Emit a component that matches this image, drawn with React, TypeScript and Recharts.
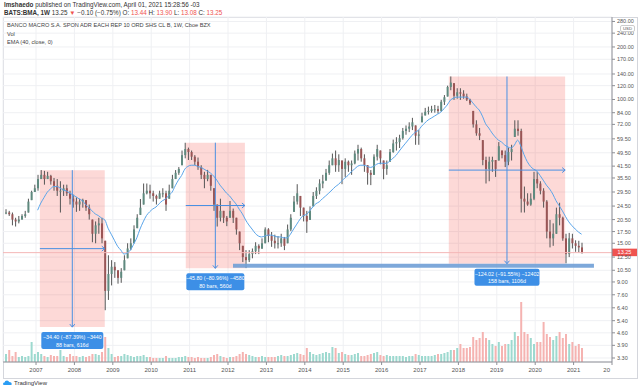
import React from 'react';
import {
  ComposedChart, Bar, Line, XAxis, YAxis, CartesianGrid, Cell,
  ReferenceArea, ReferenceLine, ReferenceDot
} from 'recharts';

// monthly bars, first one is March 2006
const START_YEAR = 2006;
const START_MONTH = 3;

const highs = [
  23.5, 23, 22.5, 21, 21.5, 22, 23, 27, 30, 32.5,
  37, 39.4, 39, 38.5, 37, 35.5, 35, 34, 32.5, 32.5, 30, 28.5,
  27.5, 27, 27, 26.5, 25, 20.5, 20, 21, 21, 15.5, 12.8, 12,
  11.7, 10.5, 10.8, 12.8, 15, 16, 19, 22, 26.9, 33, 33, 32.5,
  30, 28.5, 30, 31, 30, 32.5, 37, 39.4, 41, 51, 56.5, 53,
  51, 48, 46.5, 42, 38.5, 39.5, 37, 31, 25, 27, 23, 21.5,
  26.2, 23.7, 21, 17.5, 14.5, 13.7, 13.7, 14, 15.2, 14.8, 16, 18.5,
  18.3, 17.4, 16.8, 16.5, 17, 16.3, 19.2, 22, 28, 32.7, 28, 24,
  23, 24.4, 29.5, 31.4, 34.9, 37, 40, 44.7, 49, 51, 48.5, 44.7,
  46, 44.7, 44.7, 51, 55, 53, 48.5, 42, 39.4, 48.5, 55, 51,
  44.7, 44.7, 52, 58.9, 60.8, 62.8, 68.7, 71, 74, 78.5, 71, 66.8,
  84, 89.5, 91, 92, 93, 92, 99.5, 106, 120, 135.5, 124, 116,
  116, 113, 108, 101, 86, 76, 68.7, 58.5, 47, 47, 47, 45,
  57, 51, 51, 53, 55, 76, 76, 68, 31.7, 29, 29, 38.5,
  38.5, 34, 31, 26.5, 20.4, 19.5, 24, 25.6, 21.3, 17, 17.2, 17,
  15.6, 15.5, 15.1
];

const lows = [
  22, 21.5, 19, 18.7, 19.5, 20.5, 21, 22.5, 26.5, 29.5,
  30, 35, 32.5, 35, 32.5, 30, 28, 22.5, 28, 28, 25, 24,
  22.7, 23, 24, 23, 20.5, 15.2, 15, 17, 15, 6.2, 7.1, 8.6,
  9.5, 8.8, 8.9, 10.5, 12.3, 13.7, 15, 18.3, 21.8, 25, 28.6, 27,
  26, 25, 27, 27.5, 23, 27, 31, 35, 37, 42, 46, 45,
  45, 42, 39.5, 35, 31, 34, 30, 23, 18.7, 20, 19.6, 18.8,
  21, 19.6, 16.8, 13.7, 11.7, 10.8, 11.7, 12.3, 13, 13, 13.9, 15,
  15.2, 14.3, 14, 14, 14.3, 13.7, 15, 17.6, 22.7, 25, 21.5, 20,
  17.2, 20.4, 24.4, 26.9, 28.6, 31, 34.3, 37, 42, 38.5, 38.5, 32.7,
  36, 38.5, 37, 42.5, 44.7, 44, 38.5, 32.5, 32.3, 37, 44.7, 42.5,
  34.9, 37, 44, 49.5, 51, 52.7, 58.9, 62.8, 65, 66.8, 55, 55,
  74, 81, 82, 84, 84, 83, 85, 93, 104, 113, 99.5, 101,
  99.5, 101, 98, 93, 69, 62, 58.5, 42, 33, 34, 38.5, 36,
  44.7, 46, 41, 42, 44.7, 61, 62, 22.5, 22.5, 24.6, 24.6, 26.5,
  31, 28.6, 24, 16, 14.2, 14.5, 17, 19, 15.5, 11.5, 12.5, 14,
  13.4, 13.3, 13.08
];

const closes = [
  22.5, 22, 20.5, 20, 20.5, 21.5, 22, 26, 29.5, 31,
  35, 37, 35, 36.5, 34, 32, 30, 30, 31, 29, 27, 26,
  25, 26, 26.5, 24, 22, 17, 19, 19.5, 16, 8, 10, 11,
  10.5, 9.5, 10.3, 12, 14, 15, 18, 21, 24, 29, 30, 29,
  28, 27, 29, 29, 25, 30, 35, 38, 40, 48, 52, 50,
  47, 44, 41, 37, 35, 37, 32, 25, 21, 23, 21, 20,
  23, 21, 18, 15, 12.5, 12, 13, 13.5, 14.5, 14, 15, 18,
  16.5, 15.5, 15, 15, 16, 14.5, 18, 21, 26, 29, 24, 21.5,
  20, 23, 28, 30, 33, 34, 38, 42, 46, 42, 45, 40,
  44, 42, 43, 49, 52, 46, 42, 38, 37, 47, 52, 46,
  40, 42, 50, 56, 57, 60, 66, 68, 70, 74, 62, 63,
  80, 85, 86, 88, 88, 86, 97, 103, 118, 125, 105, 110,
  108, 104, 100, 95, 72, 64, 62, 45, 40, 44, 45, 40,
  54, 48, 44, 50, 52, 68, 66, 27, 26, 25, 27, 35,
  33, 30, 26, 17.5, 16, 17, 22, 21, 16, 13, 16, 15,
  14.5, 14.2, 13.25
];

const emaValues = [
  null, null, null, null, null, null, null, null, null, null,
  23.2, 25.5, 27.4, 29.4, 30.7, 31.7, 31.7, 31.1, 30.3, 29.9, 29.1, 28.4,
  27.7, 26.9, 26.3, 25.0, 24.0, 23.0, 22.1, 21.6, 20.9, 20.4, 18.3, 16.9,
  15.6, 14.4, 13.7, 13.0, 13.2, 13.7, 14.8, 16.1, 18.1, 19.9, 21.6, 22.7,
  23.6, 24.2, 25.3, 26.3, 26.9, 28.2, 29.4, 32.0, 34.5, 36.7, 39.9, 41.4,
  42.0, 42.0, 41.4, 40.8, 39.9, 38.9, 37.9, 36.4, 34.5, 32.3, 30.7, 29.1,
  28.0, 26.5, 25.2, 23.5, 22.1, 20.4, 19.1, 18.1, 17.1, 16.5, 16.3, 16.5,
  16.7, 16.7, 16.5, 16.3, 16.3, 16.1, 16.1, 16.9, 18.1, 19.3, 20.6, 21.6,
  21.9, 23.0, 24.2, 25.3, 25.9, 27.0, 28.0, 29.1, 30.3, 31.6, 32.6, 34.0,
  35.5, 36.7, 38.5, 39.9, 41.4, 42.0, 42.0, 41.4, 40.8, 41.4, 42.6, 43.1,
  43.1, 43.1, 44.3, 46.0, 47.8, 50.6, 53.4, 56.2, 59.2, 62.3, 64.9, 66.6,
  70.3, 73.3, 76.2, 78.2, 80.3, 82.4, 84.6, 88.6, 93.0, 99.2, 101.8, 103.2,
  103.2, 103.2, 103.2, 100.5, 95.6, 90.8, 87.0, 80.3, 72.6, 68.6, 64.3, 61.0,
  58.5, 57.0, 54.8, 53.4, 52.7, 54.8, 58.5, 54.1, 48.3, 44.1, 41.4, 39.9,
  38.9, 36.7, 34.5, 32.3, 30.7, 28.7, 26.3, 24.6, 23.0, 21.3, 19.9, 18.9,
  18.1, 17.4, 16.9
];

const volumes = [
  8, 12, 6, 10, 5, 6, 5, 6, 20, 8,
  10, 8, 6, 5, 7, 6, 6, 12, 6, 5, 8, 6,
  6, 5, 6, 5, 6, 8, 8, 7, 10, 25, 14, 8,
  5, 6, 6, 8, 7, 6, 5, 6, 6, 7, 5, 5,
  4, 4, 4, 4, 6, 4, 4, 4, 5, 5, 6, 5,
  5, 4, 5, 4, 4, 4, 5, 7, 8, 6, 5, 4,
  5, 5, 6, 8, 10, 8, 7, 6, 5, 5, 6, 5,
  5, 5, 5, 6, 7, 6, 6, 7, 8, 9, 8, 7,
  14, 10, 8, 7, 8, 9, 10, 9, 15, 14, 9, 10,
  8, 7, 7, 8, 9, 6, 6, 7, 8, 9, 10, 7,
  6, 7, 6, 6, 6, 6, 6, 5, 6, 6, 8, 7,
  6, 6, 6, 6, 7, 8, 8, 9, 10, 12, 12, 14,
  18, 14, 14, 15, 25, 22, 24, 30, 24, 22, 18, 16,
  20, 16, 18, 18, 22, 30, 26, 60, 30, 28, 24, 18,
  20, 20, 40, 28, 25, 22, 26, 30, 24, 28, 18, 20,
  16, 18, 14
];

const yearTicks = [2007, 2008, 2009, 2010, 2011, 2012, 2013, 2014, 2015, 2016, 2017, 2018, 2019, 2020, 2021, 2022];
const priceTicks = [3.3, 3.9, 4.6, 5.4, 6.4, 7.6, 9, 10.5, 12.5, 15, 17.5, 20.5, 24.5, 29.5, 35.5, 41.5, 49.5, 59.5, 72, 84, 100, 120, 140, 170, 200, 240, 280];

// price range measurements drawn on the chart
const measures = [
  { from: 2007.10, to: 2008.79, high: 39.36, low: 4.96, text: '\u221234.40 (\u221287.39%) \u22123440', sub: '88 bars, 616d', w: 62 },
  { from: 2010.90, to: 2012.44, high: 56.57, low: 10.77, text: '\u221245.80 (\u221280.96%) \u22124580', sub: '80 bars, 560d', w: 58 },
  { from: 2017.75, to: 2020.78, high: 135.47, low: 11.45, text: '\u2212124.02 (\u221291.55%) \u221212402', sub: '158 bars, 1106d', w: 65 },
];
const supportLine = { from: 2012.13, to: 2021.53, price: 11.15 };
const lastPrice = 13.25;

const UP = '#5f8a7f';
const DOWN = '#9a5555';
const WICK = '#555555';
const BLUE = '#4a90e2';
const FONT = "'Liberation Sans', Arial, sans-serif";

const data = highs.map((hi, i) => {
  const m = START_MONTH - 1 + i;
  const open = i === 0 ? closes[0] : closes[i - 1];
  return {
    t: START_YEAR + (m + 0.5) / 12,
    hi,
    lo: lows[i],
    open,
    close: closes[i],
    ema: emaValues[i],
    vol: volumes[i],
  };
});

const Candle = (props: any) => {
  const { x, y, width, height } = props;
  const p = props.payload ?? props;
  if (height == null || isNaN(y)) return null;
  const k = Math.log(p.hi) - Math.log(p.lo);
  const py = (v: number) => {
    const c = Math.min(p.hi, Math.max(p.lo, v));
    return y + (k > 0 ? (height * (Math.log(p.hi) - Math.log(c))) / k : 0);
  };
  const cx = x + width / 2;
  const top = py(Math.max(p.open, p.close));
  const bot = py(Math.min(p.open, p.close));
  return (
    <g>
      <line x1={cx} x2={cx} y1={y} y2={y + height} stroke={WICK} strokeWidth={1} />
      <rect x={x} y={top} width={width} height={Math.max(1, bot - top)} fill={p.close >= p.open ? UP : DOWN} />
    </g>
  );
};

const YearTick = (props: any) => {
  const { x, y, payload } = props;
  const last = payload.value === 2022;
  return (
    <text x={last ? x - 2 : x} y={y + 5} textAnchor={last ? 'end' : 'middle'} fontSize={6} fill="#555" fontFamily={FONT}>
      {last ? '20' : payload.value}
    </text>
  );
};

const PriceTag = (props: any) => {
  const vb = props.viewBox || {};
  const x = (vb.x ?? 0) + (vb.width ?? 0);
  const y = vb.y ?? 0;
  return (
    <g>
      <rect x={x} y={y - 4} width={25} height={7.5} fill="#ef5350" />
      <text x={x + 12.5} y={y + 1.8} textAnchor="middle" fontSize={5.5} fill="#fff" fontFamily={FONT}>13.25</text>
    </g>
  );
};

const App: React.FC = () => {
  return (
    <div style={{ position: 'absolute', left: 0, top: 0, width: 640, height: 388, background: '#fff', fontFamily: FONT, overflow: 'hidden' }}>
      {/* header */}
      <div style={{ position: 'absolute', left: 4, top: 1, fontSize: 6.3, color: '#333', whiteSpace: 'nowrap' }}>
        <b>lmshaedo</b> published on TradingView.com, April 01, 2021 15:28:56 -03
      </div>
      <div style={{ position: 'absolute', left: 4, top: 9, fontSize: 6.3, color: '#333', whiteSpace: 'nowrap' }}>
        <b>BATS:BMA, 1W</b> 13.25 <span style={{ color: '#ef5350' }}>{'\u25BC'}</span> {'\u2212'}0.10 ({'\u2212'}0.75%) O: <span style={{ color: '#ef5350' }}>13.44</span> H: <span style={{ color: '#ef5350' }}>13.90</span> L: <span style={{ color: '#ef5350' }}>13.08</span> C: <span style={{ color: '#ef5350' }}>13.25</span>
      </div>

      {/* frame */}
      <div style={{ position: 'absolute', left: 3, top: 17, width: 633, height: 360, border: '1px solid #d4d6dc' }} />

      <div style={{ position: 'absolute', left: 0, top: 0 }}>
        <ComposedChart width={637} height={378} data={data} margin={{ top: 17, right: 0, left: 3, bottom: 0 }}>
          <XAxis xAxisId="p" dataKey="t" type="number" domain={[2006.14, 2022]} ticks={yearTicks} interval={0}
            allowDataOverflow tick={<YearTick />} tickSize={3} height={16}
            axisLine={{ stroke: '#8d8f96' }} tickLine={{ stroke: '#8d8f96' }} />
          <XAxis xAxisId="v" dataKey="t" type="number" domain={[2006.14, 2022]} hide allowDataOverflow />
          <YAxis yAxisId="p" orientation="right" scale="log" domain={[3.13, 297]} allowDataOverflow
            ticks={priceTicks} interval={0} width={25} tickSize={3}
            tickFormatter={(v: number) => v.toFixed(2)}
            tick={{ fontSize: 5.5, fill: '#555', fontFamily: FONT }}
            axisLine={{ stroke: '#8d8f96' }} tickLine={{ stroke: '#8d8f96' }} />
          <YAxis yAxisId="vol" domain={[0, 345]} hide />
          <CartesianGrid xAxisId="p" yAxisId="p" stroke="#eff0f3" />

          {measures.map((m, i) => (
            <ReferenceArea key={'a' + i} xAxisId="p" yAxisId="p" x1={m.from} x2={m.to} y1={m.low} y2={m.high}
              fill="#f44336" fillOpacity={0.2} stroke="none" />
          ))}

          <Bar xAxisId="v" yAxisId="vol" dataKey="vol" barSize={2} isAnimationActive={false}>
            {data.map((d, i) => (
              <Cell key={i} fill={d.close >= d.open ? '#9dd9cf' : '#f5b3b1'} />
            ))}
          </Bar>

          <ReferenceLine xAxisId="p" yAxisId="p" y={lastPrice} stroke="#f4b6b6" strokeWidth={1}
            label={(props: any) => <PriceTag {...props} />} />

          <Bar xAxisId="p" yAxisId="p" dataKey={(d: any) => [d.lo, d.hi]} barSize={2} isAnimationActive={false}
            shape={(props: any) => <Candle {...props} />} />

          <Line xAxisId="p" yAxisId="p" dataKey="ema" type="monotone" stroke="#5aa5ea" strokeWidth={1}
            dot={false} isAnimationActive={false} connectNulls={false} />

          <ReferenceLine xAxisId="p" yAxisId="p"
            segment={[{ x: supportLine.from, y: supportLine.price }, { x: supportLine.to, y: supportLine.price }]}
            stroke="#6f9fd6" strokeWidth={4} strokeOpacity={0.9} />

          {measures.map((m, i) => {
            const mx = (m.from + m.to) / 2;
            const my = Math.sqrt(m.high * m.low);
            return [
              <ReferenceLine key={'v' + i} xAxisId="p" yAxisId="p"
                segment={[{ x: mx, y: m.high }, { x: mx, y: m.low }]} stroke={BLUE} strokeWidth={1} />,
              <ReferenceLine key={'h' + i} xAxisId="p" yAxisId="p"
                segment={[{ x: m.from, y: my }, { x: m.to, y: my }]} stroke={BLUE} strokeWidth={1} />,
              <ReferenceDot key={'d' + i} xAxisId="p" yAxisId="p" x={mx} y={m.low}
                shape={(p: any) => (
                  <g>
                    <polyline points={`${p.cx - 2.5},${p.cy - 3} ${p.cx},${p.cy} ${p.cx + 2.5},${p.cy - 3}`} fill="none" stroke={BLUE} strokeWidth={1} />
                    <rect x={p.cx - m.w / 2} y={p.cy + 5} width={m.w} height={17} rx={2} fill="#3d8fe6" />
                    <text x={p.cx} y={p.cy + 12} textAnchor="middle" fontSize={5.3} fill="#fff" fontFamily={FONT}>{m.text}</text>
                    <text x={p.cx} y={p.cy + 19.5} textAnchor="middle" fontSize={5.3} fill="#fff" fontFamily={FONT}>{m.sub}</text>
                  </g>
                )} />,
              <ReferenceDot key={'r' + i} xAxisId="p" yAxisId="p" x={m.to} y={my}
                shape={(p: any) => (
                  <polyline points={`${p.cx - 3},${p.cy - 2.5} ${p.cx},${p.cy} ${p.cx - 3},${p.cy + 2.5}`} fill="none" stroke={BLUE} strokeWidth={1} />
                )} />,
            ];
          })}
        </ComposedChart>
      </div>

      {/* legend inside the chart */}
      <div style={{ position: 'absolute', left: 7, top: 21, fontSize: 5.6, color: '#444', whiteSpace: 'nowrap', lineHeight: '8.5px' }}>
        <div>BANCO MACRO S.A. SPON ADR EACH REP 10 ORD SHS CL B, 1W, Cboe BZX</div>
        <div>Vol</div>
        <div>EMA (40, close, 0)</div>
      </div>

      {/* currency badge */}
      <div style={{ position: 'absolute', left: 620, top: 25, fontSize: 4.3, color: '#555', border: '1px solid #ccc', borderRadius: 2, padding: '0 2px', background: '#fff', lineHeight: '5px' }}>USD</div>

      {/* TradingView mark */}
      <div style={{ position: 'absolute', left: 3, top: 379, display: 'flex', alignItems: 'center', fontSize: 6, color: '#333' }}>
        <svg width={9} height={7} viewBox="0 0 9 7">
          <path d="M1 6 Q0 6 0 5 Q0 3.6 1.5 3.6 Q1.8 1.5 4 1.5 Q5.6 1.5 6.2 3 Q8.8 3 8.8 5 Q8.8 6 7.8 6 Z" fill="#2a9df4" />
        </svg>
        <span style={{ marginLeft: 2 }}>TradingView</span>
      </div>
    </div>
  );
};

export default App;
